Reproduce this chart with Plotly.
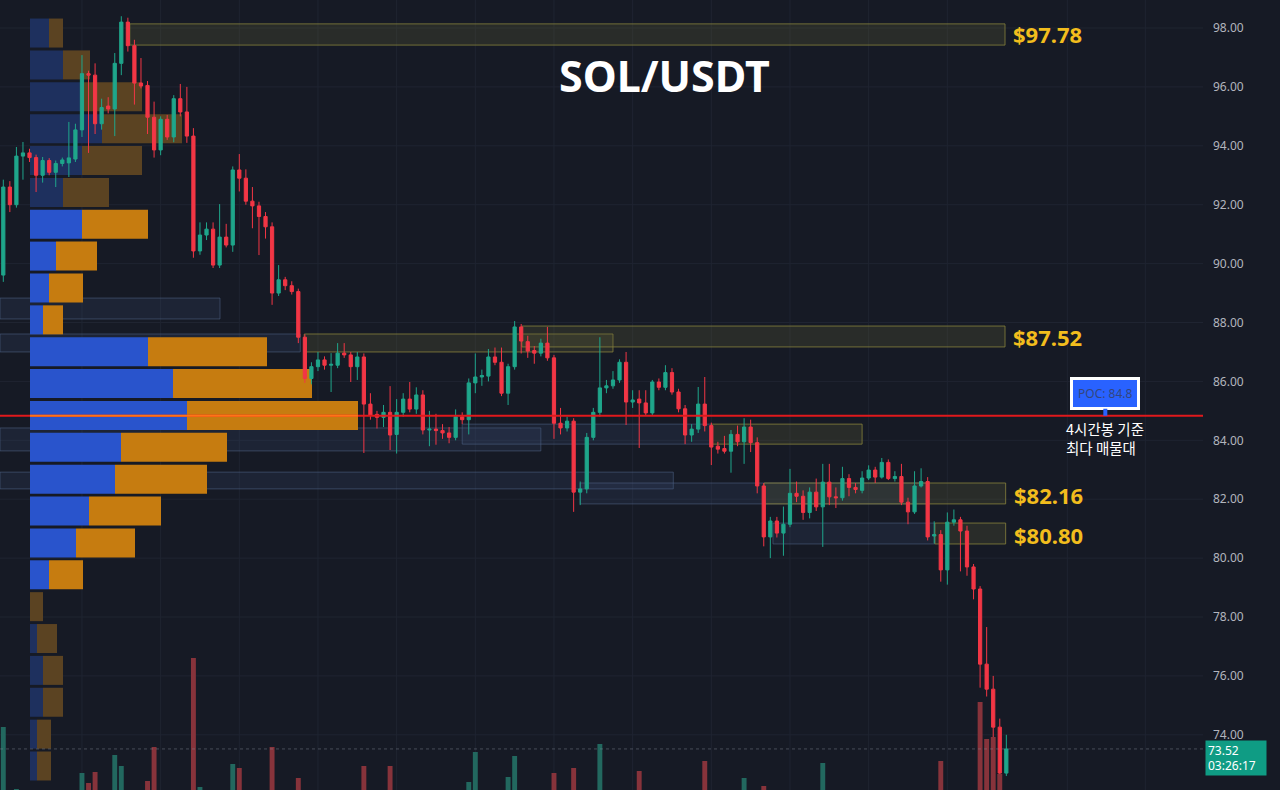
import numpy as np
import plotly.graph_objects as go

# ---------------- data ----------------
opens = [89.61, 92.60, 92.00, 93.65, 93.76, 93.60, 93.00, 93.50, 93.10, 93.40,
         93.42, 93.55, 94.54, 96.45, 96.40, 94.75, 95.35, 95.25, 96.80, 98.20,
         97.40, 96.13, 96.05, 94.97, 93.86, 94.90, 94.30, 95.60, 95.15, 94.33,
         90.43, 90.97, 91.17, 89.95, 90.90, 90.63, 93.18, 92.90, 92.12, 91.96,
         91.60, 91.25, 89.00, 89.45, 89.25, 89.05, 87.50, 86.10, 86.50, 86.73,
         86.55, 86.55, 86.96, 86.90, 86.50, 86.83, 85.23, 84.88, 84.78, 84.95,
         84.20, 84.95, 85.40, 85.06, 85.54, 84.35, 84.38, 84.33, 84.25, 84.10,
         84.80, 84.70, 85.95, 86.15, 86.18, 86.83, 86.65, 85.60, 86.50, 87.85,
         87.35, 87.05, 86.96, 87.30, 86.80, 84.58, 84.42, 84.65, 82.24, 82.35,
         84.10, 84.95, 85.78, 85.85, 86.05, 86.65, 85.30, 85.40, 85.27, 84.93,
         85.98, 85.80, 86.30, 85.64, 85.07, 84.18, 84.38, 85.23, 84.50, 83.80,
         83.72, 83.63, 84.20, 83.95, 84.45, 83.92, 82.45, 80.72, 81.26, 80.85,
         81.15, 82.20, 82.10, 81.55, 82.24, 81.74, 82.58, 82.08, 82.05, 82.70,
         82.40, 82.30, 82.72, 82.99, 82.75, 83.25, 82.70, 82.77, 81.90, 81.57,
         82.45, 82.60, 80.75, 80.80, 79.60, 81.22, 81.30, 80.92, 79.70, 78.95,
         76.40, 75.55, 74.26, 72.70]

closes = [92.60, 92.00, 93.65, 93.76, 93.60, 93.00, 93.50, 93.10, 93.40, 93.52,
          93.59, 94.54, 96.45, 96.40, 94.75, 95.30, 95.25, 96.80, 98.20, 97.40,
          96.13, 96.03, 94.97, 93.86, 94.90, 94.30, 95.60, 95.15, 94.33, 90.43,
          90.97, 91.17, 89.95, 90.90, 90.63, 93.18, 92.90, 92.12, 91.96, 91.60,
          91.25, 89.00, 89.45, 89.25, 89.05, 87.50, 86.10, 86.50, 86.73, 86.55,
          86.58, 86.96, 86.90, 86.50, 86.83, 85.23, 84.86, 84.78, 84.95, 84.18,
          84.95, 85.40, 85.06, 85.54, 84.35, 84.38, 84.33, 84.25, 84.10, 84.80,
          84.70, 85.95, 86.15, 86.20, 86.83, 86.65, 85.60, 86.50, 87.85, 87.37,
          87.03, 86.96, 87.30, 86.80, 84.58, 84.42, 84.65, 82.24, 82.35, 84.10,
          84.95, 85.78, 85.85, 86.05, 86.65, 85.30, 85.37, 85.27, 84.93, 85.98,
          85.80, 86.30, 85.64, 85.07, 84.18, 84.38, 85.23, 84.50, 83.77, 83.70,
          83.63, 84.20, 83.95, 84.45, 83.92, 82.45, 80.72, 81.26, 80.85, 81.15,
          82.20, 82.10, 81.55, 82.24, 81.74, 82.58, 82.08, 82.05, 82.70, 82.40,
          82.33, 82.72, 82.99, 82.75, 83.25, 82.70, 82.77, 81.90, 81.57, 82.45,
          82.60, 80.72, 80.80, 79.60, 81.22, 81.30, 80.92, 79.70, 78.95, 76.40,
          75.55, 74.26, 72.70, 73.52]

highs = [92.85, 92.80, 93.96, 94.13, 93.90, 93.70, 93.62, 93.58, 93.50, 93.60,
         94.81, 94.75, 97.08, 96.55, 96.80, 95.60, 95.65, 97.15, 98.40, 98.35,
         97.60, 96.98, 96.20, 95.50, 95.00, 95.05, 95.72, 96.10, 96.00, 94.60,
         91.40, 91.40, 91.40, 92.02, 91.35, 93.30, 93.72, 93.20, 92.60, 92.10,
         91.75, 91.40, 89.95, 89.55, 89.40, 89.15, 87.60, 86.65, 87.00, 86.85,
         86.96, 87.30, 87.30, 87.00, 87.00, 86.95, 85.60, 85.00, 85.20, 85.84,
         85.40, 85.60, 85.98, 85.80, 85.70, 85.00, 84.90, 84.55, 84.45, 85.05,
         84.95, 86.10, 86.95, 86.40, 87.10, 87.15, 87.15, 86.60, 88.05, 87.95,
         87.55, 87.20, 87.45, 87.85, 86.90, 85.10, 84.80, 84.75, 82.60, 84.25,
         85.10, 87.50, 86.05, 86.35, 86.75, 87.00, 85.70, 85.70, 85.70, 86.05,
         86.10, 86.55, 86.45, 85.75, 85.20, 84.55, 85.81, 86.15, 84.60, 83.95,
         84.15, 84.35, 84.50, 84.75, 84.70, 84.10, 82.55, 81.40, 81.40, 81.75,
         83.03, 82.60, 82.30, 82.40, 82.70, 83.20, 83.20, 82.40, 83.10, 82.85,
         82.55, 82.95, 83.15, 83.10, 83.40, 83.35, 82.95, 83.20, 82.05, 82.95,
         83.05, 82.75, 81.25, 80.95, 81.55, 81.65, 81.40, 81.10, 79.80, 79.05,
         77.66, 76.00, 74.55, 74.00]

lows = [89.38, 91.75, 91.90, 92.85, 93.45, 92.43, 92.75, 93.00, 92.60, 93.30,
        92.94, 93.45, 94.30, 93.76, 94.40, 94.55, 95.10, 94.33, 96.40, 97.20,
        95.40, 95.95, 94.40, 93.60, 93.68, 94.20, 94.12, 95.00, 94.10, 90.20,
        90.30, 90.80, 89.85, 89.85, 90.55, 90.40, 92.45, 92.00, 91.20, 90.29,
        90.85, 88.60, 88.90, 89.10, 88.95, 87.30, 85.95, 85.90, 86.35, 86.40,
        85.64, 86.45, 86.80, 85.98, 86.05, 83.57, 84.70, 84.40, 84.45, 83.67,
        83.55, 84.80, 84.95, 84.90, 84.20, 83.80, 83.85, 84.05, 83.90, 84.00,
        84.55, 84.20, 85.60, 85.85, 86.00, 86.55, 85.50, 85.20, 86.40, 86.95,
        86.80, 86.60, 86.85, 86.70, 84.05, 84.20, 84.30, 81.57, 81.80, 82.20,
        84.00, 84.80, 85.60, 85.75, 85.95, 84.52, 85.10, 83.74, 84.85, 84.85,
        85.70, 85.70, 85.55, 84.95, 83.87, 83.95, 84.25, 84.30, 83.16, 83.55,
        83.55, 82.90, 83.80, 83.20, 83.60, 82.20, 80.40, 80.00, 80.70, 80.08,
        81.05, 81.90, 81.30, 81.35, 81.60, 80.38, 81.80, 81.70, 81.95, 82.10,
        82.20, 82.20, 82.65, 82.55, 82.70, 82.65, 82.60, 81.80, 81.15, 81.50,
        82.40, 80.60, 80.50, 79.20, 79.10, 81.10, 79.55, 79.40, 78.60, 75.60,
        75.30, 73.80, 72.50, 72.60]

volumes = [765, 380, 455, 300, 260, 340, 280, 240, 310, 220,
           330, 410, 535, 485, 540, 360, 290, 625, 570, 420,
           400, 310, 495, 665, 380, 300, 350, 280, 390, 1110,
           465, 310, 420, 380, 260, 580, 560, 340, 300, 360,
           280, 665, 330, 240, 260, 510, 430, 290, 250, 200,
           230, 280, 190, 260, 240, 570, 330, 220, 250, 570,
           400, 310, 280, 300, 420, 260, 230, 200, 240, 330,
           210, 490, 640, 260, 380, 270, 410, 515, 620, 400,
           330, 220, 250, 300, 535, 280, 240, 560, 350, 420,
           390, 680, 260, 230, 300, 430, 220, 545, 320, 410,
           240, 290, 330, 300, 420, 250, 360, 595, 400, 220,
           200, 330, 230, 510, 300, 440, 470, 350, 260, 300,
           420, 210, 250, 280, 240, 585, 330, 190, 300, 230,
           170, 240, 260, 210, 290, 260, 180, 340, 280, 360,
           250, 440, 270, 595, 430, 220, 330, 400, 380, 890,
           705, 715, 530, 300]

# volume profile (24 rows, top -> bottom)
profile_buy = [190, 330, 530, 720, 520, 330, 520, 260, 190, 130, 1180, 1430,
               1570, 910, 850, 590, 460, 190, 0, 70, 130, 130, 70, 70]
profile_sell = [140, 270, 590, 800, 600, 460, 660, 410, 340, 200, 1190, 1390,
                1710, 1060, 920, 720, 590, 340, 130, 200, 200, 200, 140, 140]
profile_high, profile_low = 98.37, 72.40
value_area_high, value_area_low = 91.88, 78.89

poc_price = 84.8
poc_line_price = 84.83
last_price = 73.52
countdown = "03:26:17"
price_ticks = [74, 76, 78, 80, 82, 84, 86, 88, 90, 92, 94, 96, 98]

# zones: (kind, start candle, end candle, low, high)
zones = [
    ("y", 19.3, 152.8, 97.42, 98.14),
    ("b", -0.5, 33.06, 88.12, 88.83),
    ("b", -0.5, 45.3, 87.00, 87.61),
    ("y", 45.9, 93.0, 87.00, 87.61),
    ("y", 79.1, 152.8, 87.17, 87.88),
    ("b", -0.5, 82.0, 83.64, 84.42),
    ("b", 70.0, 108.0, 83.87, 84.55),
    ("y", 108.0, 131.0, 83.87, 84.55),
    ("b", -0.5, 102.2, 82.35, 82.92),
    ("b", 88.0, 140.9, 81.84, 82.55),
    ("y", 116.05, 152.9, 81.84, 82.55),
    ("b", 117.4, 142.1, 80.48, 81.19),
    ("y", 142.1, 152.9, 80.48, 81.19),
]
level_labels = [("$97.78", 97.78, 152.8), ("$87.52", 87.52, 152.8),
                ("$82.16", 82.16, 152.9), ("$80.80", 80.80, 152.9)]
grid_candles = [12, 24, 36, 48, 60, 72, 84, 96, 108, 120, 132, 144, 162.3, 174.2]
poc_label_candle = 168.1

# ---------------- styling ----------------
BG = "#161a25"
UP = "#1fa68b"
DN = "#f23645"
VOL_UP = "#22685f"
VOL_DN = "#87333b"
GRID = "#1f2431"

idx = np.arange(len(opens))
n_rows = len(profile_buy)
row_h = (profile_high - profile_low) / n_rows
row_centers = profile_high - row_h * (np.arange(n_rows) + 0.5)
in_va = (row_centers <= value_area_high) & (row_centers >= value_area_low)
buy_cols = ["#2954cc" if v else "#1e305e" for v in in_va]
sell_cols = ["#c67c10" if v else "#5b4322" for v in in_va]

fig = go.Figure()

# volume profile on base axes
fig.add_trace(go.Bar(orientation="h", x=profile_buy, y=row_centers, base=0,
                     width=row_h * 0.91, marker=dict(color=buy_cols, line_width=0),
                     xaxis="x", yaxis="y", hoverinfo="skip", showlegend=False))
fig.add_trace(go.Bar(orientation="h", x=profile_sell, y=row_centers, base=profile_buy,
                     width=row_h * 0.91, marker=dict(color=sell_cols, line_width=0),
                     xaxis="x", yaxis="y", hoverinfo="skip", showlegend=False))

# candles
fig.add_trace(go.Candlestick(x=idx, open=opens, high=highs, low=lows, close=closes,
                             xaxis="x2", yaxis="y", whiskerwidth=0,
                             increasing=dict(line=dict(color=UP, width=1), fillcolor=UP),
                             decreasing=dict(line=dict(color=DN, width=1), fillcolor=DN),
                             showlegend=False, hoverinfo="skip"))

# volume bars
vol_cols = [VOL_UP if c >= o else VOL_DN for o, c in zip(opens, closes)]
fig.add_trace(go.Bar(x=idx, y=volumes, width=0.75, marker=dict(color=vol_cols, line_width=0),
                     xaxis="x2", yaxis="y2", hoverinfo="skip", showlegend=False))

shapes = []
for p in price_ticks:
    shapes.append(dict(type="line", xref="paper", yref="y", x0=0, x1=1, y0=p, y1=p,
                       line=dict(color=GRID, width=1), layer="below"))
for g in grid_candles:
    shapes.append(dict(type="line", xref="x2", yref="paper", x0=g, x1=g, y0=0, y1=1,
                       line=dict(color=GRID, width=1), layer="below"))
for kind, a, b, lo, hi in zones:
    if kind == "y":
        fill, line = "rgba(95,95,55,0.28)", "rgba(135,130,60,0.8)"
    else:
        fill, line = "rgba(60,80,120,0.20)", "rgba(80,100,135,0.55)"
    shapes.append(dict(type="rect", xref="x2", yref="y", x0=a, x1=b, y0=lo, y1=hi,
                       fillcolor=fill, line=dict(color=line, width=1), layer="below"))
# current price dotted line
shapes.append(dict(type="line", xref="paper", yref="y", x0=0, x1=1, y0=last_price, y1=last_price,
                   line=dict(color="rgba(130,140,150,0.45)", width=1, dash="dot")))
# POC line
shapes.append(dict(type="line", xref="paper", yref="y", x0=0, x1=1, y0=poc_line_price, y1=poc_line_price,
                   line=dict(color="#e0191c", width=2)))
poc_row = int(np.argmax(np.array(profile_buy) + np.array(profile_sell)))
shapes.append(dict(type="line", xref="x", yref="y", x0=0,
                   x1=profile_buy[poc_row] + profile_sell[poc_row],
                   y0=poc_line_price, y1=poc_line_price,
                   line=dict(color="#ff7417", width=2)))

annotations = []
annotations.append(dict(text="<b>SOL/USDT</b>", xref="paper", yref="paper", x=0.552, y=0.905,
                        xanchor="center", yanchor="middle",
                        showarrow=False, font=dict(family="Noto Sans", size=43, color="white")))
for txt, p, end in level_labels:
    annotations.append(dict(text=f"<b>{txt}</b>", xref="x2", yref="y", x=end, y=p,
                            xanchor="left", yanchor="middle", xshift=6, showarrow=False,
                            font=dict(family="Noto Sans", size=22, color="#f2bd1d")))
annotations.append(dict(text=f"POC: {poc_price}", xref="x2", yref="y", x=poc_label_candle,
                        y=poc_line_price, showarrow=True, ax=0, ay=-22, arrowhead=0,
                        arrowwidth=4, arrowcolor="#2962ff", standoff=0,
                        bgcolor="#2962ff", bordercolor="white", borderwidth=3, borderpad=5,
                        font=dict(family="Noto Sans", size=12, color="#34467e")))
annotations.append(dict(text="4시간봉 기준<br>최다 매물대", xref="x2", yref="y",
                        x=poc_label_candle, y=poc_line_price, yshift=0,
                        xanchor="center", yanchor="top", align="left", showarrow=False,
                        font=dict(family="Noto Sans CJK KR", size=14.5, color="white")))
annotations.append(dict(text=f"{last_price:.2f}<br>{countdown}", xref="paper", yref="y",
                        x=1.0017, y=last_price, xanchor="left", yanchor="top", yshift=9,
                        align="left", showarrow=False, bgcolor="#0f9c84", borderpad=2,
                        width=56, height=30,
                        font=dict(family="Noto Sans", size=12, color="white")))

fig.update_layout(
    width=1280, height=790,
    margin=dict(l=0, r=77, t=0, b=0),
    paper_bgcolor=BG, plot_bgcolor=BG,
    barmode="overlay",
    showlegend=False,
    shapes=shapes, annotations=annotations,
    xaxis=dict(range=[-300, 11730], visible=False, fixedrange=True),
    xaxis2=dict(overlaying="x", range=[-0.503, 183.0], visible=False,
                rangeslider=dict(visible=False)),
    yaxis=dict(range=[72.126, 98.951], side="right", tickvals=price_ticks,
               ticktext=[f"{p:.2f}" for p in price_ticks], showgrid=False, zeroline=False,
               ticks="", ticklabelstandoff=9,
               tickfont=dict(family="Noto Sans", size=12, color="#b2b5be")),
    yaxis2=dict(overlaying="y", range=[450, 4400], visible=False),
    font=dict(family="Noto Sans", color="#b2b5be"),
)

fig.write_html("out.html")
